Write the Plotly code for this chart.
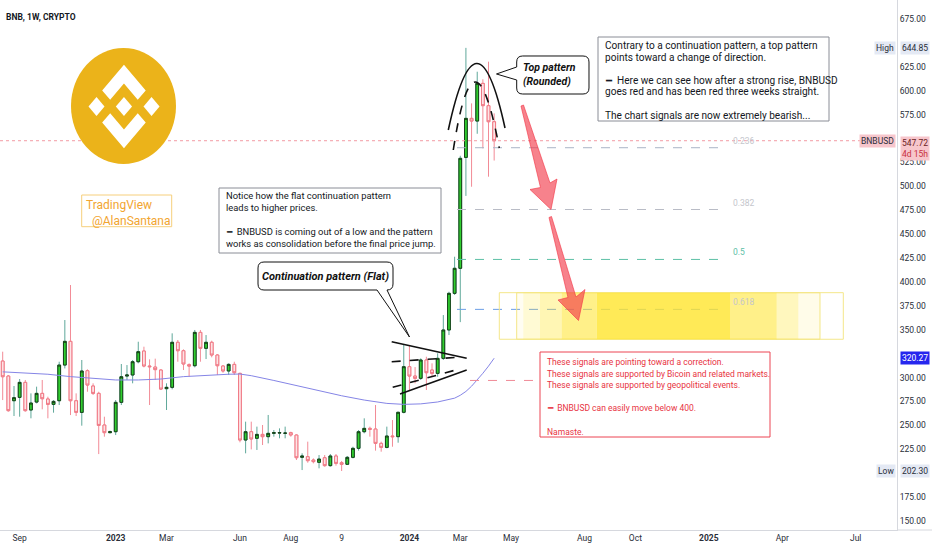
import plotly.graph_objects as go
import pandas as pd

# plot area size in px (used to place the hand drawn objects)
W, H = 897, 530

# weekly candles BNB/USD, first week starts 2022-08-15
week_start = "2022-08-15"
opens = [317.3, 301.6, 275.8, 279.3, 295.0, 266.1, 274.4, 283.5, 277.6, 272.0,
         275.8, 313.1, 337.9, 275.8, 263.6, 307.2, 291.2, 283.5, 250.4, 242.4,
         243.4, 274.1, 301.6, 302.7, 316.6, 327.8, 312.1, 311.0, 307.9, 288.4,
         289.8, 336.9, 328.1, 313.5, 312.4, 347.3, 330.6, 336.9, 323.6, 312.1,
         306.9, 313.8, 304.4, 234.7, 243.4, 236.5, 240.6, 238.2, 241.7, 242.0,
         241.7, 242.4, 239.9, 216.6, 217.3, 213.8, 211.4, 216.2, 207.9, 218.0,
         211.0, 209.3, 216.6, 226.0, 243.4, 246.9, 246.2, 231.2, 227.0, 238.9,
         238.2, 263.7, 311.4, 301.6, 299.2, 318.4, 307.9, 304.4, 320.1, 349.8,
         388.1, 414.3, 530.3, 571.1, 568.3, 607.7, 584.4, 567.6]
highs = [327.1, 302.7, 291.2, 298.5, 297.5, 283.5, 290.5, 297.5, 280.0, 276.5,
         316.6, 360.2, 396.8, 283.5, 318.4, 308.6, 294.0, 285.2, 259.1, 244.5,
         276.5, 314.2, 313.1, 318.4, 337.5, 332.3, 319.1, 319.8, 308.6, 294.0,
         346.3, 339.3, 329.5, 314.9, 349.8, 349.8, 344.5, 338.6, 324.6, 313.1,
         314.9, 316.6, 305.1, 253.9, 253.9, 248.7, 250.4, 260.9, 245.2, 246.9,
         248.7, 243.4, 240.6, 220.8, 233.0, 215.5, 219.0, 219.0, 220.1, 220.1,
         212.8, 218.0, 227.7, 245.2, 257.4, 248.7, 271.3, 233.0, 248.7, 255.6,
         264.3, 335.0, 334.0, 311.0, 320.1, 321.8, 314.9, 325.4, 365.4, 389.8,
         426.4, 532.0, 644.85, 586.8, 619.9, 612.0, 630.4, 576.3]
lows = [276.5, 264.3, 259.8, 259.1, 264.3, 257.4, 273.0, 266.8, 257.4, 263.3,
        271.3, 309.6, 260.8, 259.8, 249.7, 285.2, 281.8, 220.0, 238.2, 241.7,
        239.9, 271.3, 297.5, 294.0, 314.9, 310.7, 271.3, 297.5, 287.0, 266.1,
        287.7, 316.6, 307.9, 300.9, 310.7, 316.6, 319.4, 321.2, 302.7, 305.1,
        302.7, 302.7, 232.3, 220.8, 224.9, 224.3, 229.5, 231.2, 238.2, 236.5,
        236.5, 238.2, 213.8, 203.3, 211.0, 210.3, 205.1, 206.8, 206.8, 207.9,
        202.3, 208.6, 215.5, 223.6, 241.7, 238.2, 223.6, 222.5, 226.0, 227.7,
        231.9, 262.6, 287.0, 294.0, 297.5, 287.0, 300.9, 300.9, 318.4, 344.5,
        386.4, 358.0, 490.0, 499.6, 555.0, 539.7, 510.1, 527.0]
closes = [300.9, 265.4, 279.0, 295.0, 265.4, 273.4, 283.5, 277.9, 272.0, 275.1,
          313.1, 337.9, 275.8, 263.6, 306.9, 292.2, 283.5, 250.0, 242.4, 243.4,
          274.1, 300.9, 302.7, 316.6, 327.1, 312.1, 311.4, 308.3, 288.0, 289.8,
          336.9, 328.1, 314.2, 312.1, 347.3, 330.6, 336.9, 323.6, 312.4, 306.9,
          313.8, 305.1, 234.7, 243.4, 235.8, 240.6, 238.2, 241.7, 242.4, 242.4,
          242.0, 240.0, 216.2, 218.0, 213.1, 212.1, 214.8, 207.9, 218.0, 210.3,
          209.3, 216.6, 226.0, 243.4, 246.9, 245.9, 231.2, 227.0, 238.9, 238.2,
          263.7, 311.4, 301.6, 299.2, 318.4, 305.1, 304.4, 320.1, 349.8, 388.1,
          414.3, 529.3, 571.1, 568.3, 607.7, 584.4, 567.6, 547.72]

# moving average, read at some weeks (week number, value)
ma_weeks = [1, 5, 9, 13, 17, 21, 25, 29, 33, 37, 41, 43, 45, 49, 53, 57, 61, 65,
            69, 72, 75, 78, 81, 82, 83, 84, 85, 86, 87, 88]
ma_vals = [306.0, 305.0, 303.5, 301.0, 299.0, 297.5, 297.5, 298.5, 301.0, 302.5,
           303.5, 303.7, 302.0, 297.0, 291.5, 286.0, 281.0, 276.5, 273.0, 272.0,
           272.5, 274.5, 278.5, 281.5, 285.5, 291.0, 297.5, 304.5, 312.0, 320.27]

tick_dates = ["2022-09-05", "2023-01-02", "2023-03-06", "2023-06-05", "2023-08-07",
              "2023-10-09", "2024-01-01", "2024-03-04", "2024-05-06", "2024-08-05",
              "2024-10-07", "2025-01-06", "2025-04-07", "2025-07-07"]
tick_text = ["Sep", "<b>2023</b>", "Mar", "Jun", "Aug", "9", "<b>2024</b>", "Mar",
             "May", "Aug", "Oct", "<b>2025</b>", "Apr", "Jul"]
price_ticks = [675, 625, 600, 575, 525, 500, 475, 450, 425, 400, 375, 350,
               300, 275, 250, 225, 175, 150]

fib_high, fib_low = 644.85, 202.30
fib_levels = ["0.236", "0.382", "0.5", "0.618", "0.786"]
fib_colors = ["#a9b4c6", "#b9bcc6", "#5cc0a6", "#6b9ee6", "#f08a96"]
fib_label_colors = ["#c4c6cc", "#c4c6cc", "#5cc0a6", "#c4c6cc", None]
last_price = 547.72
ma_last = 320.27

note_left = ["Notice how the flat continuation pattern", "leads to higher prices.", "",
             "━  BNBUSD is coming out of a low and the pattern",
             "works as consolidation before the final price jump."]
note_top = ["Contrary to a continuation pattern, a top pattern",
            "points toward a change of direction.", "",
            "━  Here we can see how after a strong rise, BNBUSD",
            "goes red and has been red three weeks straight.", "",
            "The chart signals are now extremely bearish..."]
note_red = ["These signals are pointing toward a correction.",
            "These signals are supported by Bicoin and related markets.",
            "These signals are supported by geopolitical events.", "",
            "━  BNBUSD can easily move below 400.", "", "Namaste."]

dates = pd.date_range(week_start, periods=len(opens), freq="7D")
body_hi = [max(o, c) for o, c in zip(opens, closes)]
body_lo = [min(o, c) for o, c in zip(opens, closes)]


def px(x, y):
    return f"{x / W:.5f},{1 - y / H:.5f}"


def poly(points):
    return "M " + " L ".join(px(x, y) for x, y in points) + " Z"


def callout(x0, y0, x1, y1, r, side, p1, tip, p2):
    # rounded box with a pointer, side = 'bottom' or 'left'
    d = f"M {px(x0 + r, y0)} L {px(x1 - r, y0)} Q {px(x1, y0)} {px(x1, y0 + r)} "
    d += f"L {px(x1, y1 - r)} Q {px(x1, y1)} {px(x1 - r, y1)} "
    if side == "bottom":
        d += f"L {px(p2, y1)} L {px(*tip)} L {px(p1, y1)} "
    d += f"L {px(x0 + r, y1)} Q {px(x0, y1)} {px(x0, y1 - r)} "
    if side == "left":
        d += f"L {px(x0, p2)} L {px(*tip)} L {px(x0, p1)} "
    d += f"L {px(x0, y0 + r)} Q {px(x0, y0)} {px(x0 + r, y0)} Z"
    return d


fig = go.Figure()

# wicks
fig.add_trace(go.Candlestick(
    x=dates, open=opens, high=highs, low=lows, close=closes,
    increasing=dict(line=dict(color="#5fa89a", width=1), fillcolor="#2fcf2f"),
    decreasing=dict(line=dict(color="#f28b96", width=1), fillcolor="#fde4e6"),
    hoverinfo="skip", showlegend=False))
# bodies with darker border
fig.add_trace(go.Candlestick(
    x=dates, open=opens, high=body_hi, low=body_lo, close=closes,
    increasing=dict(line=dict(color="#173f17", width=1), fillcolor="#2fcf2f"),
    decreasing=dict(line=dict(color="#f07884", width=1), fillcolor="#fde4e6"),
    hoverinfo="skip", showlegend=False))

fig.add_trace(go.Scatter(
    x=[dates[i - 1] for i in ma_weeks], y=ma_vals, mode="lines",
    line=dict(color="#8585e6", width=1), hoverinfo="skip", showlegend=False))

shapes = []
ann = []

# last price dotted line
shapes.append(dict(type="line", xref="paper", yref="y", x0=0, x1=861 / W,
                   y0=last_price, y1=last_price,
                   line=dict(color="#f29aa3", width=1, dash="dot")))

# fibonacci levels
for lvl, col, lcol in zip(fib_levels, fib_colors, fib_label_colors):
    p = fib_high - float(lvl) * (fib_high - fib_low)
    x_start = 470 if lvl == "0.786" else 457
    shapes.append(dict(type="line", xref="paper", yref="y", x0=x_start / W, x1=727 / W,
                       y0=p, y1=p, line=dict(color=col, width=1, dash="dash")))
    if lcol:
        ann.append(dict(xref="paper", yref="y", x=731 / W, y=p, yshift=7,
                        text=lvl, showarrow=False, xanchor="left",
                        font=dict(size=8.5, color=lcol)))

# yellow target zone
zone_top, zone_bot = 388.8, 340.1
for x0, x1 in [(499.3, 843.3), (516.7, 820)]:
    shapes.append(dict(type="rect", xref="paper", yref="y", x0=x0 / W, x1=x1 / W,
                       y0=zone_bot, y1=zone_top, line=dict(color="#f4e78a", width=1),
                       fillcolor="rgba(255,255,255,0)"))
for x0, x1, a in [(516.7, 523.3, 0.06), (523.3, 540, 0.2), (540, 561.7, 0.35),
                  (561.7, 596.7, 0.55), (596.7, 730, 0.78), (730, 776.7, 0.55),
                  (776.7, 798.3, 0.3), (798.3, 820, 0.1)]:
    shapes.append(dict(type="rect", xref="paper", yref="y", x0=x0 / W, x1=x1 / W,
                       y0=zone_bot, y1=zone_top, line=dict(width=0),
                       fillcolor=f"rgba(255,228,40,{a})"))

# flat continuation pattern
for (x0, y0, x1, y1, dash) in [(391.7, 341.7, 466.7, 358.3, "solid"),
                               (400.0, 394.0, 466.7, 370.0, "solid"),
                               (391.7, 361.7, 462.0, 357.0, "dash"),
                               (392.7, 387.3, 462.0, 368.3, "dash")]:
    shapes.append(dict(type="line", xref="paper", yref="paper",
                       x0=x0 / W, y0=1 - y0 / H, x1=x1 / W, y1=1 - y1 / H,
                       line=dict(color="#111", width=1.6, dash=dash)))

# rounded top arcs
shapes.append(dict(type="path", xref="paper", yref="paper",
                   path=f"M {px(448.3, 130)} Q {px(476.7, -2)} {px(505, 128)}",
                   line=dict(color="#111", width=1.6)))
shapes.append(dict(type="path", xref="paper", yref="paper",
                   path=f"M {px(453.3, 150)} Q {px(474, 15)} {px(499.3, 148)}",
                   line=dict(color="#111", width=1.6, dash="dash")))

# bearish arrows
arrow_col = "rgba(242,54,69,0.62)"
shapes.append(dict(type="path", xref="paper", yref="paper", fillcolor=arrow_col,
                   line=dict(color=arrow_col, width=1),
                   path=poly([(521, 106), (523.5, 105), (550, 183), (557, 179),
                              (551, 209.5), (530, 189.5), (540.5, 187.5)])))
shapes.append(dict(type="path", xref="paper", yref="paper", fillcolor=arrow_col,
                   line=dict(color=arrow_col, width=1),
                   path=poly([(549, 217.5), (551.5, 216.5), (576, 297), (585, 289.5),
                              (578.5, 320.5), (558, 300), (568, 297.5)])))

# logo
shapes.append(dict(type="circle", xref="paper", yref="paper",
                   x0=71 / W, x1=176 / W, y0=1 - 48 / H, y1=1 - 164 / H,
                   fillcolor="#ebb31a", line=dict(width=0)))
logo_parts = [
    [(38.73, 53.2), (63.32, 28.62), (87.92, 53.22), (102.22, 38.91), (63.32, 0), (24.42, 38.9)],
    [(0, 63.31), (14.3, 49.0), (28.61, 63.31), (14.3, 77.61)],
    [(38.73, 73.41), (63.32, 98.0), (87.92, 73.4), (102.23, 87.69), (63.33, 126.6), (24.4, 87.7)],
    [(98.28, 63.31), (112.58, 49.01), (126.89, 63.31), (112.58, 77.61)],
    [(77.83, 63.3), (63.32, 48.78), (48.81, 63.3), (63.32, 77.83)],
]
for part in logo_parts:
    pts = [(124 + (u - 63.4) * 0.56, 106.5 + (v - 63.3) * 0.66) for u, v in part]
    shapes.append(dict(type="path", xref="paper", yref="paper", path=poly(pts),
                       fillcolor="white", line=dict(width=0)))

# signature box
shapes.append(dict(type="rect", xref="paper", yref="paper", x0=81.7 / W, x1=171.7 / W,
                   y0=1 - 195 / H, y1=1 - 226.7 / H, line=dict(color="#f6cf7c", width=1)))
ann.append(dict(xref="paper", yref="paper", x=84 / W, y=1 - 196 / H, xanchor="left",
                yanchor="top", showarrow=False, align="left",
                text="TradingView<br>&nbsp;&nbsp;@AlanSantana",
                font=dict(family="Roboto", size=12, color="#f2a530")))

# note boxes
for x0, y0, x1, y1, col in [(219, 188, 441, 253, "#8a8d96"),
                            (598, 37, 829, 121, "#8a8d96"),
                            (540, 352, 770, 437, "#ec4553")]:
    shapes.append(dict(type="rect", xref="paper", yref="paper", x0=x0 / W, x1=x1 / W,
                       y0=1 - y0 / H, y1=1 - y1 / H, fillcolor="white",
                       line=dict(color=col, width=1), layer="above"))

for x, y_first, step, lines, size, col in [
        (224, 195, 12.0, note_left, 9.4, "#131722"),
        (603, 45.5, 11.6, note_top, 10.1, "#131722"),
        (545, 362, 11.6, note_red, 8.5, "#e8343f")]:
    for k, line in enumerate(lines):
        if not line:
            continue
        ann.append(dict(xref="paper", yref="paper", x=x / W, y=1 - (y_first + k * step) / H,
                        xanchor="left", yanchor="middle", showarrow=False, text=line,
                        font=dict(family="Roboto", size=size, color=col)))

# callouts
shapes.append(dict(type="path", xref="paper", yref="paper", fillcolor="white",
                   line=dict(color="#111", width=1), layer="above",
                   path=callout(258, 262, 393, 290, 6, "bottom", 377, (409.5, 337), 387)))
ann.append(dict(xref="paper", yref="paper", x=325.5 / W, y=1 - 276 / H, showarrow=False,
                text="<b><i>Continuation pattern (Flat)</i></b>",
                font=dict(family="Roboto", size=11, color="#111")))
shapes.append(dict(type="path", xref="paper", yref="paper", fillcolor="white",
                   line=dict(color="#111", width=1), layer="above",
                   path=callout(516.7, 56, 589, 94, 6, "left", 67, (496.5, 74), 80)))
ann.append(dict(xref="paper", yref="paper", x=521 / W, y=1 - 59 / H, xanchor="left",
                yanchor="top", showarrow=False, align="left",
                text="<b><i>Top pattern<br>(Rounded)</i></b>",
                font=dict(family="Roboto", size=10.5, color="#111")))

# chart title
ann.append(dict(xref="paper", yref="paper", x=4 / W, y=1 - 10 / H, xanchor="left",
                showarrow=False, text="<b>BNB, 1W, CRYPTO</b>",
                font=dict(family="Roboto", size=8.5, color="#131722")))

# price scale labels
scale_x = 1 + 2.5 / W
for y, txt, bg, fc in [(max(highs), f"{max(highs):.2f}", "#e4e9f4", "#2a2e39"),
                       (min(lows), f"{min(lows):.2f}", "#e4e9f4", "#2a2e39"),
                       (ma_last, f"{ma_last:.2f}", "#2626ee", "white")]:
    ann.append(dict(xref="paper", yref="y", x=scale_x, y=y, xanchor="left",
                    showarrow=False, text=txt, bgcolor=bg, borderpad=1,
                    font=dict(family="Roboto", size=8.5, color=fc)))
for y, txt in [(max(highs), "High"), (min(lows), "Low")]:
    ann.append(dict(xref="paper", yref="y", x=896 / W, y=y, xanchor="right",
                    showarrow=False, text=txt, bgcolor="#e4e9f4", borderpad=1,
                    font=dict(family="Roboto", size=8.5, color="#2a2e39")))
ann.append(dict(xref="paper", yref="y", x=896 / W, y=last_price, xanchor="right",
                showarrow=False, text="BNBUSD", bgcolor="#f7c6cc", borderpad=1,
                font=dict(family="Roboto", size=8.5, color="#2a2e39")))
ann.append(dict(xref="paper", yref="y", x=scale_x, y=last_price, yshift=5,
                xanchor="left", yanchor="top", showarrow=False, align="left",
                text=f"{last_price:.2f}<br><span style='color:#c8303c'>4d 15h</span>",
                bgcolor="#f7c6cc", borderpad=1,
                font=dict(family="Roboto", size=8.5, color="#6b1d24")))

# bottom line under the price scale
shapes.append(dict(type="line", xref="paper", yref="paper", x0=1, x1=932 / W, y0=0, y1=0,
                   line=dict(color="#d6d8de", width=1)))

fig.update_layout(
    width=932, height=550,
    margin=dict(l=0, r=35, t=0, b=20),
    paper_bgcolor="white", plot_bgcolor="white",
    showlegend=False,
    shapes=shapes, annotations=ann,
    font=dict(family="Roboto", color="#131722"),
    xaxis=dict(type="date", range=["2022-08-11 15:40", "2025-08-27 04:20"],
               rangeslider=dict(visible=False), showgrid=False, zeroline=False,
               tickvals=tick_dates, ticktext=tick_text, ticks="",
               tickfont=dict(size=8.5, color="#2a2e39"),
               showline=True, linecolor="#d6d8de", linewidth=1),
    yaxis=dict(side="right", range=[140.6, 694.9], showgrid=False, zeroline=False,
               tickvals=price_ticks, ticktext=[f"{v:.2f}" for v in price_ticks],
               ticks="", tickfont=dict(size=8.5, color="#2a2e39"),
               showline=True, linecolor="#d6d8de", linewidth=1),
)

fig.write_html("out.html", config={"displayModeBar": False},
               post_script="document.body.style.margin='0px';")
